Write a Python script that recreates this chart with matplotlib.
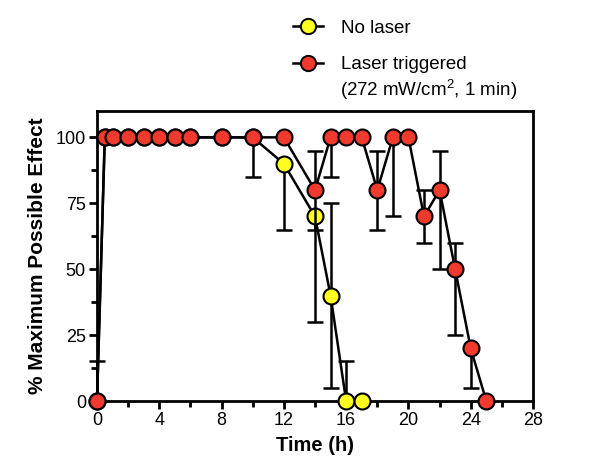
import matplotlib
matplotlib.use("Agg")
import matplotlib.pyplot as plt
from matplotlib.lines import Line2D
from matplotlib.ticker import MultipleLocator
import numpy as np

plt.rcParams['font.family'] = ['Liberation Sans', 'DejaVu Sans']
plt.rcParams['mathtext.fontset'] = 'custom'
plt.rcParams['mathtext.rm'] = 'Liberation Sans'

# No laser
t_no = [0, 0.5, 1, 2, 3, 4, 5, 6, 8, 10, 12, 14, 15, 16, 17]
v_no = [0, 100, 100, 100, 100, 100, 100, 100, 100, 100, 90, 70, 40, 0, 0]
lo_no = [0, 0, 0, 0, 0, 0, 0, 0, 0, 0, 25, 40, 35, 0, 0]
hi_no = [0, 0, 0, 0, 0, 0, 0, 0, 0, 0, 0, 0, 35, 15, 0]

# Laser triggered
t_la = [0, 0.5, 1, 2, 3, 4, 5, 6, 8, 10, 12, 14, 15, 16, 17, 18, 19, 20,
        21, 22, 23, 24, 25]
v_la = [0, 100, 100, 100, 100, 100, 100, 100, 100, 100, 100, 80, 100, 100,
        100, 80, 100, 100, 70, 80, 50, 20, 0]
lo_la = [0, 0, 0, 0, 0, 0, 0, 0, 0, 15, 0, 15, 15, 0, 0, 15, 30, 0,
         10, 30, 25, 15, 0]
hi_la = [15, 0, 0, 0, 0, 0, 0, 0, 0, 0, 0, 15, 0, 0, 0, 15, 0, 0,
         10, 15, 10, 0, 0]

YELLOW = '#ffff1f'
RED = '#f03a2e'

fig = plt.figure(figsize=(6.0, 4.76), dpi=100)
ax = fig.add_axes([97 / 600, 1 - 401 / 476, 436 / 600, 290 / 476])


def draw(t, v, lo, hi, color, z):
    t = np.array(t, dtype=float)
    v = np.array(v, dtype=float)
    lo = np.array(lo, dtype=float)
    hi = np.array(hi, dtype=float)
    m = (lo > 0) | (hi > 0)
    ax.errorbar(t[m], v[m], yerr=[lo[m], hi[m]], fmt='none', ecolor='black',
                elinewidth=1.8, capsize=6, capthick=1.8, zorder=z,
                clip_on=False)
    ax.plot(t, v, color='black', lw=1.8, marker='o', markersize=11.5,
            markerfacecolor=color, markeredgecolor='black',
            markeredgewidth=1.5, zorder=z + 1, clip_on=False)


draw(t_no, v_no, lo_no, hi_no, YELLOW, 3)
draw(t_la, v_la, lo_la, hi_la, RED, 5)

ax.set_xlim(0, 28)
ax.set_ylim(0, 110)
ax.xaxis.set_major_locator(MultipleLocator(4))
ax.xaxis.set_minor_locator(MultipleLocator(2))
ax.set_yticks([0, 25, 50, 75, 100])
ax.yaxis.set_minor_locator(MultipleLocator(12.5))
for s in ax.spines.values():
    s.set_linewidth(2)
ax.tick_params(which='major', direction='out', length=6, width=2,
               labelsize=13, pad=2)
ax.tick_params(which='minor', direction='out', length=4, width=2)
ax.set_xlabel('Time (h)', fontsize=14.5, fontweight='bold', labelpad=5)
ax.set_ylabel('% Maximum Possible Effect', fontsize=15, fontweight='bold',
              labelpad=6)

h_no = Line2D([], [], color='black', lw=1.8, marker='o', markersize=11,
              markerfacecolor=YELLOW, markeredgecolor='black',
              markeredgewidth=1.4)
h_la = Line2D([], [], color='black', lw=1.8, marker='o', markersize=11,
              markerfacecolor=RED, markeredgecolor='black',
              markeredgewidth=1.4)
fig.legend([h_no, h_la], ['No laser', 'Laser triggered'],
           loc='upper left', bbox_to_anchor=(285 / 600, 1 - 12 / 476),
           frameon=False, fontsize=13.5, handlelength=1.6, handletextpad=1.0,
           labelspacing=1.03, borderaxespad=0)
fig.text(340 / 600, 1 - 90 / 476, '(272 mW/cm$^2$, 1 min)', fontsize=13.5,
         va='center', ha='left')

fig.savefig('out.png', dpi=100, facecolor='white')
